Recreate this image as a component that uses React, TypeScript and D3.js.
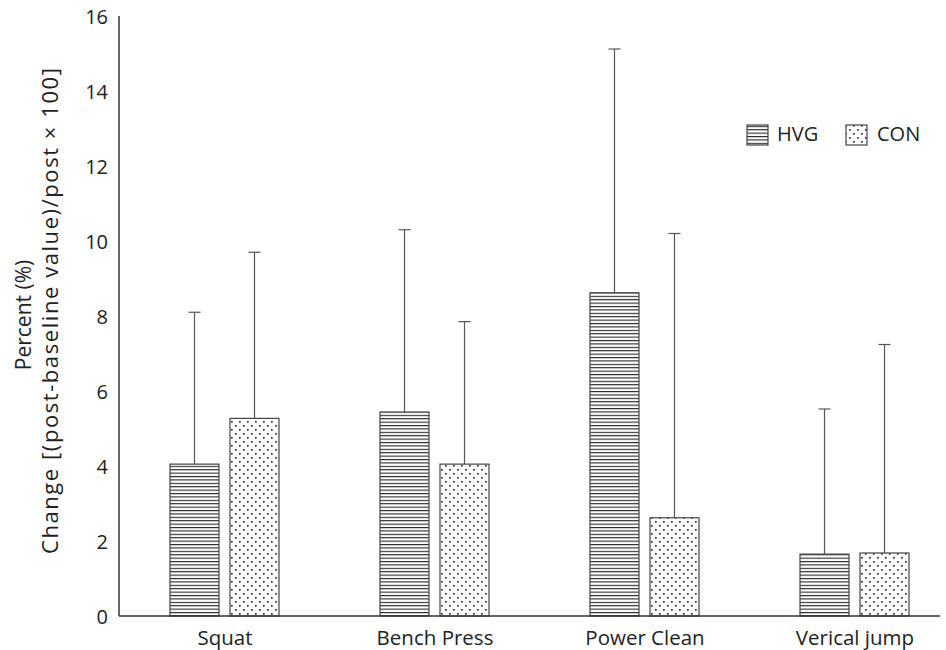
import React from "react";
import * as d3 from "d3";

const categories = ["Squat", "Bench Press", "Power Clean", "Verical jump"];
const groups = ["HVG", "CON"];
const hvgValues = [4.05, 5.44, 8.62, 1.65];
const hvgErrors = [8.1, 10.3, 15.12, 5.52];
const conValues = [5.27, 4.05, 2.62, 1.68];
const conErrors = [9.7, 7.85, 10.2, 7.24];
const yTicks = [0, 2, 4, 6, 8, 10, 12, 14, 16];

const FONT = "'Open Sans', sans-serif";

export default function App() {
  const width = 946;
  const height = 650;
  const axisX = 119;
  const axisBottom = 616;
  const axisTop = 16;

  const y = d3.scaleLinear().domain([0, 16]).range([axisBottom, axisTop]);
  const x0 = d3.scaleBand<string>().domain(categories).range([120, 960]).padding(0);
  const x1 = d3.scaleBand<string>().domain(groups).range([0, 109]).paddingInner(0.1833).paddingOuter(0);

  const data = categories.map((c, i) => ({
    cat: c,
    items: [
      { g: "HVG", v: hvgValues[i], e: hvgErrors[i] },
      { g: "CON", v: conValues[i], e: conErrors[i] },
    ],
  }));

  const bw = x1.bandwidth();
  const capHalf = 6;

  return (
    <svg width={width} height={height} style={{ position: "absolute", left: 0, top: 0, background: "#fff" }}>
      <defs>
        <pattern id="hvg" patternUnits="userSpaceOnUse" width="8" height="3.4">
          <rect width="8" height="3.4" fill="#fff" />
          <rect y="0" width="8" height="1.1" fill="#222" />
        </pattern>
        <pattern id="con" patternUnits="userSpaceOnUse" width="8" height="8">
          <rect width="8" height="8" fill="#fff" />
          <rect x="1" y="1" width="1.7" height="1.7" fill="#333" />
          <rect x="5" y="5" width="1.7" height="1.7" fill="#333" />
        </pattern>
      </defs>

      {data.map((d) => {
        const cx = (x0(d.cat) as number) + x0.bandwidth() / 2 - 55;
        return (
          <g key={d.cat} transform={`translate(${cx},0)`}>
            {d.items.map((it) => {
              const bx = x1(it.g) as number;
              const mid = bx + bw / 2;
              return (
                <g key={it.g}>
                  <line x1={mid} x2={mid} y1={y(it.v)} y2={y(it.e)} stroke="#555" strokeWidth={1.2} />
                  <line x1={mid - capHalf} x2={mid + capHalf} y1={y(it.e)} y2={y(it.e)} stroke="#555" strokeWidth={1.2} />
                  <rect
                    x={bx}
                    y={y(it.v)}
                    width={bw}
                    height={axisBottom - y(it.v)}
                    fill={`url(#${it.g === "HVG" ? "hvg" : "con"})`}
                    stroke="#444"
                    strokeWidth={1.2}
                  />
                </g>
              );
            })}
          </g>
        );
      })}

      <line x1={axisX} x2={axisX} y1={axisTop} y2={axisBottom} stroke="#333" strokeWidth={1.5} />
      <line x1={axisX} x2={940} y1={axisBottom} y2={axisBottom} stroke="#333" strokeWidth={1.5} />

      {yTicks.map((t) => (
        <text key={t} x={108} y={y(t) + 3} textAnchor="end" dominantBaseline="middle" fontFamily={FONT} fontSize={20} fill="#222">
          {t}
        </text>
      ))}

      {categories.map((c) => (
        <text key={c} x={(x0(c) as number) + x0.bandwidth() / 2} y={645} textAnchor="middle" fontFamily={FONT} fontSize={20.5} fill="#222">
          {c}
        </text>
      ))}

      <text transform="translate(31,315) rotate(-90)" textAnchor="middle" fontFamily={FONT} fontSize={21} fill="#222">
        Percent (%)
      </text>
      <text transform="translate(58,311) rotate(-90)" textAnchor="middle" fontFamily={FONT} fontSize={22} fill="#222" textLength={486} lengthAdjust="spacing">
        Change [(post-baseline value)/post × 100]
      </text>

      <rect x={747} y={125} width={21} height={20} fill="url(#hvg)" stroke="#444" strokeWidth={1.2} />
      <text x={777} y={136} dominantBaseline="middle" fontFamily={FONT} fontSize={20} fill="#222">HVG</text>
      <rect x={846} y={125} width={21} height={20} fill="url(#con)" stroke="#444" strokeWidth={1.2} />
      <text x={877} y={136} dominantBaseline="middle" fontFamily={FONT} fontSize={20} fill="#222">CON</text>
    </svg>
  );
}
